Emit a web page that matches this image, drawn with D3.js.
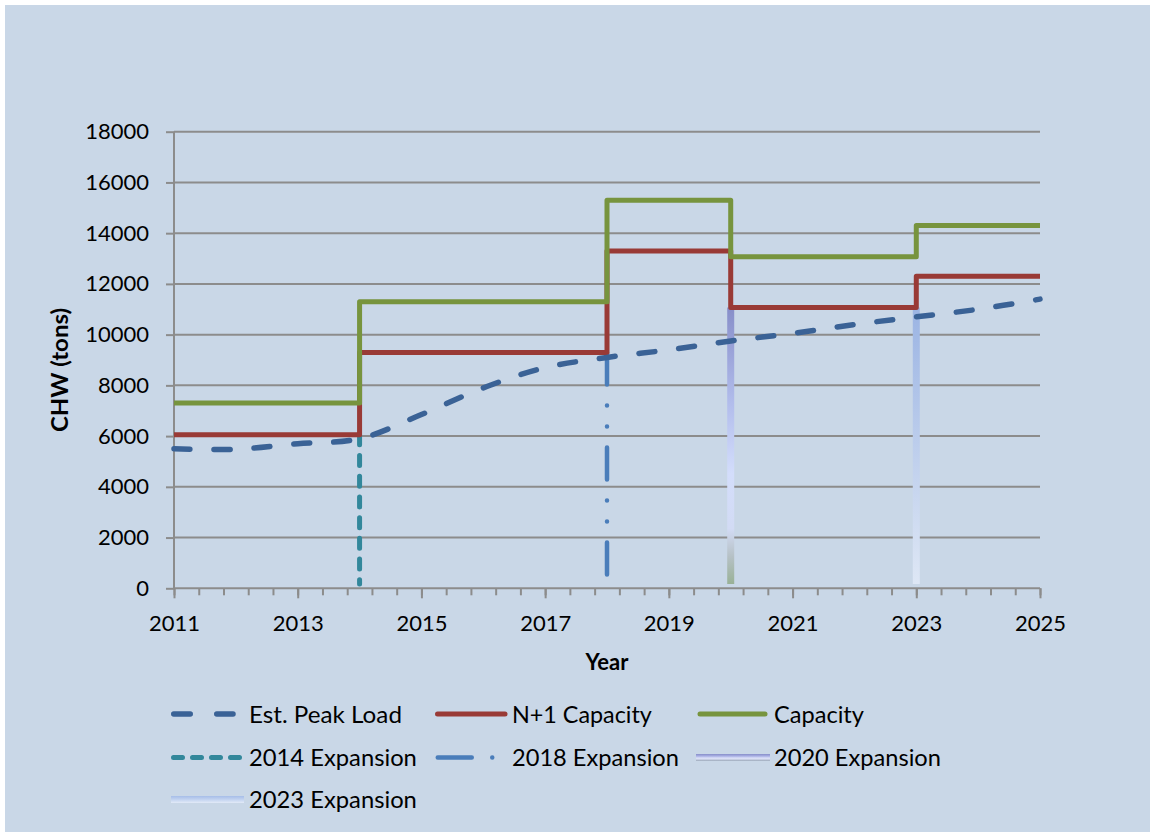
<!DOCTYPE html>
<html>
<head>
<meta charset="utf-8">
<script src="https://cdn.jsdelivr.net/npm/d3@7/dist/d3.min.js"></script>
<style>
  html, body { margin: 0; padding: 0; background: #ffffff; }
  svg { display: block; }
  text { font-family: Lato, "Open Sans", sans-serif; fill: #000; }
</style>
</head>
<body>
<svg id="chart" width="1155" height="837"></svg>
<script>
// ---------------- data ----------------
const years = [2011, 2012, 2013, 2014, 2015, 2016, 2017, 2018, 2019, 2020, 2021, 2022, 2023, 2024, 2025];
const peakLoad = [5500, 5480, 5700, 5900, 6850, 7900, 8700, 9100, 9400, 9750, 10050, 10400, 10700, 11000, 11400];

const stepYears = [2011, 2014, 2018, 2020, 2023, 2025];
const n1Capacity = [6050, 9300, 13300, 11070, 12300, 12300];
const capacity = [7300, 11300, 15300, 13070, 14300, 14300];

const expansionNames = ["2014 Expansion", "2018 Expansion", "2020 Expansion", "2023 Expansion"];
const expansionYears = [2014, 2018, 2020, 2023];
const expansionTop = [6050, 9300, 11070, 11070];
const expansionBase = [170, 170, 170, 170];

const legendNames = ["Est. Peak Load", "N+1 Capacity", "Capacity", "2014 Expansion", "2018 Expansion", "2020 Expansion", "2023 Expansion"];

const xTickLabels = [2011, 2013, 2015, 2017, 2019, 2021, 2023, 2025];
const yTickLabels = [0, 2000, 4000, 6000, 8000, 10000, 12000, 14000, 16000, 18000];
const xMinorStep = 0.4;

const xTitle = "Year";
const yTitle = "CHW (tons)";

// ---------------- layout ----------------
const svg = d3.select("#chart");
const L = 174, R = 1040, T = 131.7, B = 588.3;
const gridColor = "#8c8c8c";
const colors = {
  peak: "#3a6296",
  n1: "#993a36",
  cap: "#77943e",
  e2014: "#32879b",
  e2018: "#4a7dba"
};

svg.append("rect").attr("x", 5).attr("y", 5).attr("width", 1145).attr("height", 827).attr("fill", "#c9d7e7");

const x = d3.scaleLinear().domain([2011, 2025]).range([L, R]);
const y = d3.scaleLinear().domain([0, 18000]).range([B, T]);

// gradients
const defs = svg.append("defs");
function vGrad(id, stops, y1, y2, units) {
  const g = defs.append("linearGradient").attr("id", id)
    .attr("x1", 0).attr("x2", 0);
  if (units === "user") {
    g.attr("gradientUnits", "userSpaceOnUse").attr("y1", y1).attr("y2", y2);
  } else {
    g.attr("y1", 0).attr("y2", 1);
  }
  stops.forEach(s => g.append("stop").attr("offset", s[0]).attr("stop-color", s[1]));
  return g;
}
const stops2020 = [[0, "#878ec9"], [0.35, "#b2bdec"], [0.6, "#d3ddfb"], [0.8, "#d2dbf4"], [0.9, "#b6c1c6"], [1, "#99b196"]];
const stops2023 = [[0, "#9bb4e3"], [1, "#dee7f5"]];
vGrad("g2020", stops2020, y(expansionTop[2]), y(expansionBase[2]), "user");
vGrad("g2023", stops2023, y(expansionTop[3]), y(expansionBase[3]), "user");
vGrad("g2020L", [[0, "#878ec9"], [0.3, "#a9b0e4"], [0.6, "#dfe4fb"], [0.8, "#c4cbe0"], [1, "#9aa8b8"]], 0, 0, "bbox");
vGrad("g2023L", [[0, "#a6bde8"], [0.5, "#c2d3f0"], [1, "#e2eaf7"]], 0, 0, "bbox");

// grid
svg.append("g").selectAll("line").data(yTickLabels.filter(v => v > 0)).join("line")
  .attr("x1", L).attr("x2", R).attr("y1", d => y(d)).attr("y2", d => y(d))
  .attr("stroke", gridColor).attr("stroke-width", 2);

// minor x ticks
const minorTicks = d3.range(0, Math.round((2025 - 2011) / xMinorStep) + 1).map(i => 2011 + i * xMinorStep);
const xMinor = svg.append("g").attr("transform", `translate(0,${B})`)
  .call(d3.axisBottom(x).tickValues(minorTicks).tickSize(7).tickFormat(""));
xMinor.select(".domain").remove();
xMinor.selectAll("line").attr("stroke", gridColor).attr("stroke-width", 2);

// x axis
const xAxis = svg.append("g").attr("transform", `translate(0,${B})`)
  .call(d3.axisBottom(x).tickValues(xTickLabels).tickSize(10).tickPadding(17).tickFormat(d3.format("d")));
xAxis.select(".domain").attr("stroke", gridColor).attr("stroke-width", 2).attr("d", `M${L},0H${R}`);
xAxis.selectAll(".tick line").attr("stroke", gridColor).attr("stroke-width", 2);
xAxis.selectAll("text").style("font-size", "22px").style("font-family", "Lato, sans-serif").attr("fill", "#000");

// y axis
const yAxis = svg.append("g").attr("transform", `translate(${L},0)`)
  .call(d3.axisLeft(y).tickValues(yTickLabels).tickSize(8).tickPadding(17).tickFormat(d3.format("d")));
yAxis.select(".domain").attr("stroke", gridColor).attr("stroke-width", 2).attr("d", `M0,${B}V${T}`);
yAxis.selectAll(".tick line").attr("stroke", gridColor).attr("stroke-width", 2);
yAxis.selectAll("text").style("font-size", "22px").style("font-family", "Lato, sans-serif").attr("fill", "#000");

// horizontally fitted text helper
function fitText(sel, px, py, target) {
  const w = sel.node().getComputedTextLength();
  const sx = w > 0 ? target / w : 1;
  sel.attr("transform", `translate(${px},${py}) scale(${sx},1)`);
}

// axis titles
svg.append("text").attr("x", x(2018)).attr("y", 670).attr("text-anchor", "middle")
  .style("font-size", "22px").style("font-weight", "bold").text(xTitle);
const yt = svg.append("text").attr("text-anchor", "middle")
  .style("font-size", "22px").style("font-weight", "bold").text(yTitle);
{
  const w = yt.node().getComputedTextLength();
  yt.attr("transform", `translate(68,${(T + B) / 2 + 10}) rotate(-90) scale(${124 / w},1)`);
}

// ---------------- series ----------------
const expStyles = [
  { stroke: colors.e2014, width: 5, dash: "10,10.7", cap: "round" },
  { stroke: colors.e2018, width: 4.5, dash: "32,21,0.01,21,0.01,21", cap: "round" },
  { stroke: "url(#g2020)", width: 7, dash: null, cap: "butt" },
  { stroke: "url(#g2023)", width: 7, dash: null, cap: "butt" }
];
const expG = svg.append("g");
expansionYears.forEach((yr, i) => {
  const s = expStyles[i];
  const ln = expG.append("line")
    .attr("x1", x(yr)).attr("x2", x(yr))
    .attr("y1", y(expansionTop[i])).attr("y2", y(expansionBase[i]))
    .attr("stroke", s.stroke).attr("stroke-width", s.width).attr("stroke-linecap", s.cap)
    .attr("fill", "none");
  if (s.dash) ln.attr("stroke-dasharray", s.dash);
});

const stepLine = d3.line().x((d, i) => x(stepYears[i])).y(d => y(d)).curve(d3.curveStepAfter);
svg.append("path").attr("d", stepLine(n1Capacity)).attr("fill", "none")
  .attr("stroke", colors.n1).attr("stroke-width", 5).attr("stroke-linejoin", "round");
svg.append("path").attr("d", stepLine(capacity)).attr("fill", "none")
  .attr("stroke", colors.cap).attr("stroke-width", 5).attr("stroke-linejoin", "round");

const peakLine = d3.line().x((d, i) => x(years[i])).y(d => y(d)).curve(d3.curveCatmullRom.alpha(0.5));
svg.append("path").attr("d", peakLine(peakLoad)).attr("fill", "none")
  .attr("stroke", colors.peak).attr("stroke-width", 5.5).attr("stroke-linecap", "round")
  .attr("stroke-dasharray", "16,24");

// ---------------- legend ----------------
const swatchX = [171, 435.5, 696];
const textX = [249, 512, 774];
const rowY = [714, 757.5, 799.5];
const textLens = [153, 140, 90, 168, 167, 167, 168];
const legendSwatches = [
  { type: "line", stroke: colors.peak, width: 5.5, dash: "16.5,26.5", cap: "round", x0: 2.75, x1: 62 },
  { type: "line", stroke: colors.n1, width: 5, cap: "round", x0: 2, x1: 69.5 },
  { type: "line", stroke: colors.cap, width: 5, cap: "round", x0: 4, x1: 69 },
  { type: "line", stroke: colors.e2014, width: 5, dash: "9,10", cap: "round", x0: 2.5, x1: 72 },
  { type: "line", stroke: colors.e2018, width: 4.5, dash: "34,20.5,0.01,100", cap: "round", x0: 2.25, x1: 62 },
  { type: "rect", fill: "url(#g2020L)", h: 7, x0: 0, x1: 74 },
  { type: "rect", fill: "url(#g2023L)", h: 7, x0: 0, x1: 73 }
];
const legend = svg.append("g");
legendNames.forEach((name, i) => {
  const col = i % 3, row = Math.floor(i / 3);
  const g = legend.append("g").attr("transform", `translate(${swatchX[col]},${rowY[row]})`);
  const s = legendSwatches[i];
  if (s.type === "line") {
    const ln = g.append("line").attr("x1", s.x0).attr("x2", s.x1).attr("y1", 0).attr("y2", 0)
      .attr("stroke", s.stroke).attr("stroke-width", s.width).attr("stroke-linecap", s.cap);
    if (s.dash) ln.attr("stroke-dasharray", s.dash);
  } else {
    g.append("rect").attr("x", s.x0).attr("y", -s.h / 2).attr("width", s.x1 - s.x0).attr("height", s.h)
      .attr("fill", s.fill);
  }
  const t = legend.append("text").style("font-size", "23px").text(name);
  fitText(t, textX[col], rowY[row] + 8.5, textLens[i]);
});
</script>
</body>
</html>
